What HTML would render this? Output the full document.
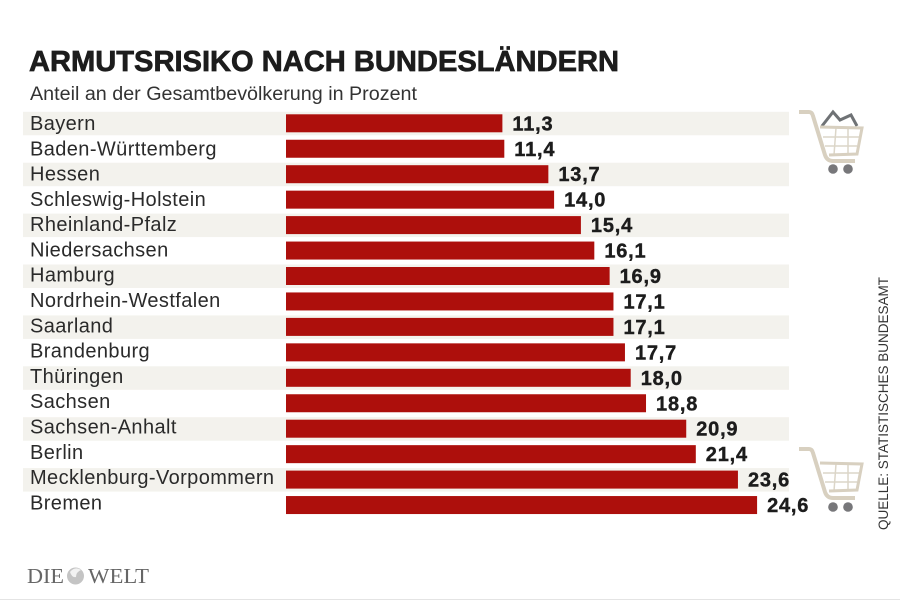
<!DOCTYPE html>
<html lang="de">
<head>
<meta charset="utf-8">
<title>Armutsrisiko nach Bundesländern</title>
<style>
html,body{margin:0;padding:0;background:#fff;}
svg{display:block;font-family:"Liberation Sans",sans-serif;}
</style>
</head>
<body>
<svg id="chart" width="900" height="600" viewBox="0 0 900 600">
  <text x="29" y="71" font-size="29" font-weight="700" fill="#1c1c1c" stroke="#1c1c1c" stroke-width="0.7" textLength="590" lengthAdjust="spacingAndGlyphs">ARMUTSRISIKO NACH BUNDESLÄNDERN</text>
  <text x="30" y="100" font-size="19" fill="#333333" textLength="387" lengthAdjust="spacingAndGlyphs">Anteil an der Gesamtbevölkerung in Prozent</text>
  <g id="rows"></g>

  <g id="cart-top">
    <polyline points="822,126 833,112 840,120 851,115 857,126" fill="none" stroke="#6f7275" stroke-width="3"/>
    <path d="M836 128 L834 155 M848 128 L848 155 M823 137 H859 M825 146 H857" stroke="#dcd6c8" stroke-width="1.5" fill="none"/>
    <path d="M820 127 L862 128 L857 154 L829 155" fill="none" stroke="#d8d0c0" stroke-width="3"/>
    <path d="M799 112 H809 Q812 112 813 116 L825 155 Q827 161 833 161 H855" fill="none" stroke="#d8d0c0" stroke-width="4"/>
    <circle cx="833" cy="169" r="4.800" fill="#77777a"/>
    <circle cx="848" cy="169" r="4.800" fill="#77777a"/>
  </g>
  <g id="cart-bottom">
    <path d="M836 464 L834 491 M848 464 L848 491 M823 473 H859 M825 482 H857" stroke="#dcd6c8" stroke-width="1.5" fill="none"/>
    <path d="M820 463 L862 464 L857 490 L829 491" fill="none" stroke="#d8d0c0" stroke-width="3"/>
    <path d="M799 449 H809 Q812 449 813 453 L825 492 Q827 498 833 498 H855" fill="none" stroke="#d8d0c0" stroke-width="4"/>
    <circle cx="833" cy="507" r="4.800" fill="#77777a"/>
    <circle cx="848" cy="507" r="4.800" fill="#77777a"/>
  </g>

  <text transform="translate(888,530) rotate(-90)" font-size="14" fill="#333333" textLength="253" lengthAdjust="spacingAndGlyphs">QUELLE: STATISTISCHES BUNDESAMT</text>

  <g>
    <text x="27" y="583" font-family="'Liberation Serif',serif" font-size="21" fill="#666666" textLength="37" lengthAdjust="spacingAndGlyphs">DIE</text>
    <circle cx="75.500" cy="576" r="8.500" fill="#c4c4c4"/>
    <path d="M70 572 Q75 566 81 570 Q76 572 76 577 Q72 578 70 572 Z" fill="#f2f2f2"/>
    <text x="88" y="583" font-family="'Liberation Serif',serif" font-size="21" fill="#666666" textLength="61" lengthAdjust="spacingAndGlyphs">WELT</text>
  </g>
  <rect x="0" y="599" width="900" height="1" fill="#e4e4e4"/>
</svg>
<script>
const states = ["Bayern","Baden-Württemberg","Hessen","Schleswig-Holstein","Rheinland-Pfalz","Niedersachsen","Hamburg","Nordrhein-Westfalen","Saarland","Brandenburg","Thüringen","Sachsen","Sachsen-Anhalt","Berlin","Mecklenburg-Vorpommern","Bremen"];
const values = [11.3,11.4,13.7,14.0,15.4,16.1,16.9,17.1,17.1,17.7,18.0,18.8,20.9,21.4,23.6,24.6];

const NS = "http://www.w3.org/2000/svg";
const rows = document.getElementById("rows");
function xScale(v){ return v * 19.15; }
function yScale(i){ return 114.3 + i * 25.45; }
function labelY(i){ return 130 + i * 25.29; }
function fmt(v){ return v.toFixed(1).replace(".", ","); }
function make(tag, attrs){
  const el = document.createElementNS(NS, tag);
  for (const k in attrs) el.setAttribute(k, attrs[k]);
  return el;
}
states.forEach(function(state, i){
  const y = yScale(i);
  if (i % 2 === 0 && i < states.length - 1) {
    const stripe = make("rect", {x: 23, y: y - 2.5, width: 766, height: 23.5, fill: "#f3f2ed"});
    
    
    rows.appendChild(stripe);
  }
  const label = make("text", {x: 30, y: labelY(i), "font-size": 20, "letter-spacing": 0.4, fill: "#2a2a2a"});
  label.textContent = state;
  
  
  rows.appendChild(label);
  const bar = make("rect", {x: 286, y: y, width: xScale(values[i]), height: 18, fill: "#ad0f0c"});
  
  
  rows.appendChild(bar);
  const val = make("text", {x: 286 + xScale(values[i]) + 10, y: y + 16, "font-size": 20, "letter-spacing": 0.8, "font-weight": 700, fill: "#1c1c1c", stroke: "#1c1c1c", "stroke-width": 0.4});
  val.textContent = fmt(values[i]);
  
  
  rows.appendChild(val);
});
</script>
</body>
</html>
